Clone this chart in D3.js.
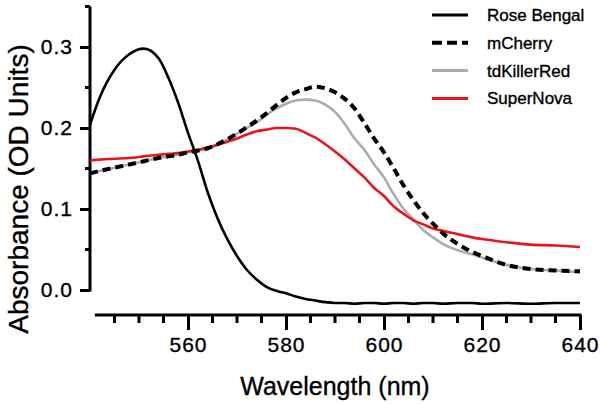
<!DOCTYPE html>
<html><head><meta charset="utf-8">
<script src="https://cdn.jsdelivr.net/npm/d3@7"></script>
<style>
html,body{margin:0;padding:0;background:#fff;}
svg{display:block;font-family:"Liberation Sans",Arial,sans-serif;}
text{stroke:#000;stroke-width:0.35px;}
</style></head>
<body><svg id="c" width="600" height="404"></svg>
<script>
const wavelengths = [540,542,545,548,551,554,556,558,560,562,564,566,568,570,572,574,576,578,580,582,584,586,588,590,592,594,596,598,600,602,604,606,608,610,612,615,618,620,625,630,635,640];
const roseBengal = [0.204,0.238,0.272,0.291,0.298,0.286,0.262,0.231,0.194,0.160,0.121,0.089,0.063,0.042,0.025,0.013,0.004,-0.001,-0.004,-0.008,-0.011,-0.013,-0.015,-0.016,-0.016,-0.017,-0.016,-0.016,-0.017,-0.016,-0.016,-0.017,-0.016,-0.016,-0.017,-0.016,-0.016,-0.017,-0.016,-0.017,-0.016,-0.016];
const mCherry = [0.144,0.147,0.151,0.155,0.159,0.163,0.165,0.167,0.170,0.172,0.175,0.180,0.186,0.193,0.201,0.209,0.218,0.228,0.237,0.244,0.248,0.251,0.249,0.244,0.236,0.224,0.206,0.187,0.170,0.150,0.129,0.111,0.095,0.082,0.070,0.057,0.047,0.042,0.031,0.026,0.024,0.023];
const tdKillerRed = [0.144,0.147,0.151,0.155,0.159,0.163,0.165,0.167,0.170,0.172,0.175,0.180,0.186,0.193,0.200,0.207,0.216,0.224,0.230,0.234,0.235,0.234,0.229,0.220,0.205,0.187,0.173,0.155,0.139,0.118,0.100,0.087,0.074,0.065,0.057,0.049,0.044,0.040,0.031,0.026,0.024,0.022];
const superNova = [0.160,0.161,0.162,0.163,0.165,0.167,0.168,0.169,0.171,0.173,0.176,0.179,0.183,0.187,0.192,0.196,0.198,0.200,0.200,0.199,0.194,0.188,0.180,0.171,0.161,0.150,0.139,0.126,0.116,0.103,0.094,0.086,0.081,0.076,0.073,0.069,0.065,0.063,0.059,0.056,0.055,0.053];
const seriesNames = ["Rose Bengal","mCherry","tdKillerRed","SuperNova"];
const yTicks = [0.0,0.1,0.2,0.3];
const yMinorTicks = [0.05,0.15,0.25,0.35];
const xTicks = [560,580,600,620,640];
const xMinorTicks = [545,550,555,565,570,575,585,590,595,605,610,615,625,630,635];

const svg = d3.select("#c");
const x = d3.scaleLinear().domain([540,640]).range([90,580]);
const y = d3.scaleLinear().domain([0,0.35]).range([290,6.5]);

const styles = {
  "Rose Bengal": {stroke:"#000", width:2.6, dash:null},
  "mCherry": {stroke:"#000", width:4, dash:"8,5"},
  "tdKillerRed": {stroke:"#acacac", width:2.6, dash:null},
  "SuperNova": {stroke:"#e8161c", width:2.6, dash:null}
};
const dataMap = {"Rose Bengal":roseBengal,"mCherry":mCherry,"tdKillerRed":tdKillerRed,"SuperNova":superNova};

// Y axis
const yAxis = d3.axisLeft(y).tickValues(yTicks).tickFormat(d3.format(".1f")).tickSize(10).tickPadding(7);
const yg = svg.append("g").attr("transform","translate(90,0)").call(yAxis);
yg.select(".domain").attr("d","M0,"+(y(0)+1.5)+"V"+y(0.35)).attr("stroke-width",3).attr("stroke","#000");
yg.selectAll(".tick line").attr("stroke-width",3);
yg.selectAll(".tick text").attr("font-size",21).attr("fill","#000").style("letter-spacing","1px").attr("font-family","Liberation Sans, Arial, sans-serif");
yg.selectAll(".minor").data(yMinorTicks).enter().append("line").attr("class","minor")
  .attr("x1",-5).attr("x2",0).attr("y1",d=>y(d)).attr("y2",d=>y(d)).attr("stroke","#000").attr("stroke-width",3);

// X axis
const xAxis = d3.axisBottom(x).tickValues(xTicks).tickFormat(d3.format("d")).tickSize(15).tickPadding(7);
const xg = svg.append("g").attr("transform","translate(0,315)").call(xAxis);
xg.select(".domain").attr("d","M"+x(541)+",0H"+(x(640)+1.5)).attr("stroke-width",3).attr("stroke","#000");
xg.selectAll(".tick line").attr("stroke-width",3);
xg.selectAll(".tick text").attr("font-size",21).attr("fill","#000").style("letter-spacing","1px").attr("font-family","Liberation Sans, Arial, sans-serif");
xg.selectAll(".minor").data(xMinorTicks).enter().append("line").attr("class","minor")
  .attr("x1",d=>x(d)).attr("x2",d=>x(d)).attr("y1",0).attr("y2",8).attr("stroke","#000").attr("stroke-width",3);

// Titles
svg.append("text").attr("x",335).attr("y",395).attr("text-anchor","middle").attr("font-size",25).text("Wavelength (nm)");
svg.append("text").attr("transform","translate(28,189) rotate(-90)").attr("text-anchor","middle").attr("font-size",28).text("Absorbance (OD Units)");

// Lines
const line = d3.line().x((d,i)=>x(wavelengths[i])).y(d=>y(d)).curve(d3.curveMonotoneX);
["tdKillerRed","SuperNova","mCherry","Rose Bengal"].forEach(name=>{
  const s = styles[name];
  svg.append("path").datum(dataMap[name]).attr("d",line).attr("fill","none")
    .attr("stroke",s.stroke).attr("stroke-width",s.width).attr("stroke-dasharray",s.dash);
});

// Legend
const leg = svg.append("g");
seriesNames.forEach((name,i)=>{
  const s = styles[name];
  const cy = 15 + i*27.8;
  leg.append("line").attr("x1",432).attr("x2",468).attr("y1",cy).attr("y2",cy)
    .attr("stroke",s.stroke).attr("stroke-width",s.dash?4:3).attr("stroke-dasharray",s.dash?"10,5":null);
  leg.append("text").attr("x",487).attr("y",cy+6).attr("font-size",17).text(name);
});
</script></body></html>
